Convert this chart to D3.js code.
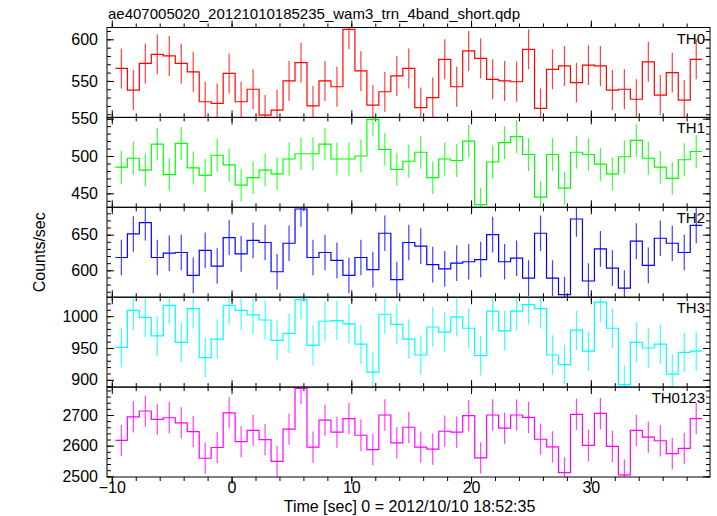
<!DOCTYPE html>
<html><head><meta charset="utf-8">
<script src="https://cdn.jsdelivr.net/npm/d3@7"></script>
<style>
body{margin:0;background:#fff}
svg{display:block}
text{font-family:"Liberation Sans",Arial,Helvetica,sans-serif;fill:#000}
</style>
</head><body>
<svg id="chart" width="717" height="516"></svg>
<script>
// ---- data ----
const times = [-9.2,-8.2,-7.2,-6.2,-5.2,-4.2,-3.2,-2.2,-1.2,-0.2,
  0.8,1.8,2.8,3.8,4.8,5.8,6.8,7.8,8.8,9.8,
  10.8,11.8,12.8,13.8,14.8,15.8,16.8,17.8,18.8,19.8,
  20.8,21.8,22.8,23.8,24.8,25.8,26.8,27.8,28.8,29.8,
  30.8,31.8,32.8,33.8,34.8,35.8,36.8,37.8,38.8];
const th0 = [565,539,571,582,580,571,561,525,523,559,
  525,540,509,515,550,572,520,550,543,612,
  562,521,537,556,565,
  518,530,576,543,586,577,552,550,549,588,
  517,564,568,548,569,568,539,540,528,573,
  533,560,527,576];
const th1 = [485,497,481,516,475,517,484,474,501,488,
  461,471,481,476,496,503,503,516,496,496,
  500,549,509,482,493,
  505,471,496,494,520,435,492,518,526,502,
  445,502,457,505,502,489,476,499,521,497,
  485,470,495,506];
const th2 = [618,651,667,618,624,625,593,628,606,646,
  623,642,639,598,638,686,618,625,614,593,
  618,601,652,587,639,
  634,608,602,610,612,615,650,612,617,589,
  652,589,566,672,585,630,603,575,641,607,
  645,638,625,663];
const th3 = [951,1009,998,969,1017,959,1012,935,964,1017,
  1009,1002,994,962,973,1026,954,992,993,988,
  956,912,1003,987,964,
  939,983,975,999,981,938,1008,977,1008,1018,
  1012,939,924,978,945,1022,981,892,959,950,
  956,909,943,945];
const th0123 = [2617,2694,2713,2686,2691,2674,2646,2559,2594,2707,
  2613,2650,2620,2549,2654,2787,2595,2683,2644,2688,
  2634,2587,2700,2609,2660,
  2595,2589,2647,2644,2698,2560,2700,2657,2700,2692,
  2621,2596,2512,2702,2601,2705,2598,2505,2650,2628,
  2616,2574,2591,2688];
const seriesValues = [th0, th1, th2, th3, th0123];
const seriesNames = ["TH0","TH1","TH2","TH3","TH0123"];
const seriesErrors = [24, 22, 25, 31, 51];
const binHalfWidth = 0.5;
const yDomains = [[506.2,614.2],[431.3,551.7],[562.3,688.4],[888.6,1029.8],[2497.8,2791]];
const yMajorTicks = [[550,600],[450,500,550],[600,650],[900,950,1000],[2500,2600,2700]];
const yMinorStep = [10,10,10,10,20];
const xDomain = [-10.4, 39.95];
const xMajorTicks = [-10,0,10,20,30];
const xTickLabels = ["\u221210","0","10","20","30"];
const xMinorStep = 2;
const titleText = "ae407005020_20121010185235_wam3_trn_4band_short.qdp";
const xLabelText = "Time [sec] 0 = 2012/10/10 18:52:35";
const yLabelText = "Counts/sec";

// ---- styles / layout ----
const colors = ["#ff0000","#00ff00","#0000ff","#00ffff","#ff00ff"];
const L = 107, R = 710, T = 27.5, PH = 89.9;
const FS = 15, FT = 16;
const FF = '"Liberation Sans",Arial,sans-serif';

const svg = d3.select("#chart");
const x = d3.scaleLinear().domain(xDomain).range([L, R]);
const xMinor = d3.range(-10, 40, xMinorStep);

seriesValues.forEach((vals, p) => {
  const top = T + p*PH, bot = top + PH;
  const y = d3.scaleLinear().domain(yDomains[p]).range([bot, top]);
  const g = svg.append("g");
  const clipId = "clip" + p;
  svg.append("clipPath").attr("id", clipId).append("rect")
    .attr("x", L).attr("y", top).attr("width", R - L).attr("height", PH);
  const dg = g.append("g").attr("clip-path", `url(#${clipId})`);

  // error bars
  dg.selectAll("line.err").data(vals).join("line")
    .attr("x1", (d,i) => x(times[i])).attr("x2", (d,i) => x(times[i]))
    .attr("y1", d => y(d - seriesErrors[p])).attr("y2", d => y(d + seriesErrors[p]))
    .attr("stroke", colors[p]).attr("stroke-width", 1.2).attr("stroke-opacity", 0.75);

  // step line
  const pts = [];
  vals.forEach((d,i) => { pts.push([times[i]-binHalfWidth, d]); pts.push([times[i]+binHalfWidth, d]); });
  dg.append("path").datum(pts)
    .attr("d", d3.line().x(d => x(d[0])).y(d => y(d[1])))
    .attr("fill", "none").attr("stroke", colors[p]).attr("stroke-width", 1.2);

  // y ticks
  const yMinor = d3.range(Math.ceil(yDomains[p][0]/yMinorStep[p])*yMinorStep[p], yDomains[p][1], yMinorStep[p]);
  const axes = [
    d3.axisLeft(y).tickValues(yMinor).tickSize(-4).tickFormat(""),
    d3.axisLeft(y).tickValues(yMajorTicks[p]).tickSize(-7).tickPadding(9).tickFormat(d3.format("d")),
  ];
  axes.forEach(a => {
    const ag = g.append("g").attr("transform", `translate(${L},0)`).call(a);
    ag.select(".domain").remove();
    ag.selectAll("line").attr("stroke", "#000");
    ag.selectAll("text").attr("font-size", FT).attr("font-family", FF).attr("fill", "#000");
  });
  [d3.axisRight(y).tickValues(yMinor).tickSize(-4).tickFormat(""),
   d3.axisRight(y).tickValues(yMajorTicks[p]).tickSize(-7).tickFormat("")].forEach(a => {
    const ag = g.append("g").attr("transform", `translate(${R},0)`).call(a);
    ag.select(".domain").remove();
    ag.selectAll("line").attr("stroke", "#000");
  });
  // x ticks on top and bottom of each panel
  [[d3.axisTop, bot], [d3.axisBottom, top]].forEach(([fn, ypos]) => {
    [[xMinor, -4], [xMajorTicks, -7]].forEach(([tv, sz]) => {
      const ag = g.append("g").attr("transform", `translate(0,${ypos})`)
        .call(fn(x).tickValues(tv).tickSize(sz).tickFormat(""));
      ag.select(".domain").remove();
      ag.selectAll("line").attr("stroke", "#000");
    });
  });
  // frame
  g.append("rect").attr("x", L).attr("y", top).attr("width", R - L).attr("height", PH)
    .attr("fill", "none").attr("stroke", "#000").attr("stroke-width", 1);
  // panel label
  g.append("text").attr("x", 705).attr("y", top + 16).attr("text-anchor", "end")
    .attr("font-size", FS).text(seriesNames[p]);

  if (p === seriesValues.length - 1) {
    const xa = g.append("g").attr("transform", `translate(0,${bot})`)
      .call(d3.axisBottom(x).tickValues(xMajorTicks).tickSize(0).tickPadding(5)
        .tickFormat((d,i) => xTickLabels[i]));
    xa.select(".domain").remove();
    xa.selectAll("text").attr("font-size", FT).attr("font-family", FF).attr("fill", "#000");
  }
});

svg.append("text").attr("x", 108).attr("y", 19).attr("font-size", FS).text(titleText);
svg.append("text").attr("x", (L+R)/2 + 1).attr("y", 512).attr("text-anchor", "middle")
  .attr("font-size", FT).text(xLabelText);
svg.append("text").attr("transform", `translate(45,${T + 2.5*PH}) rotate(-90)`)
  .attr("text-anchor", "middle").attr("font-size", FT).text(yLabelText);
</script>
</body></html>
